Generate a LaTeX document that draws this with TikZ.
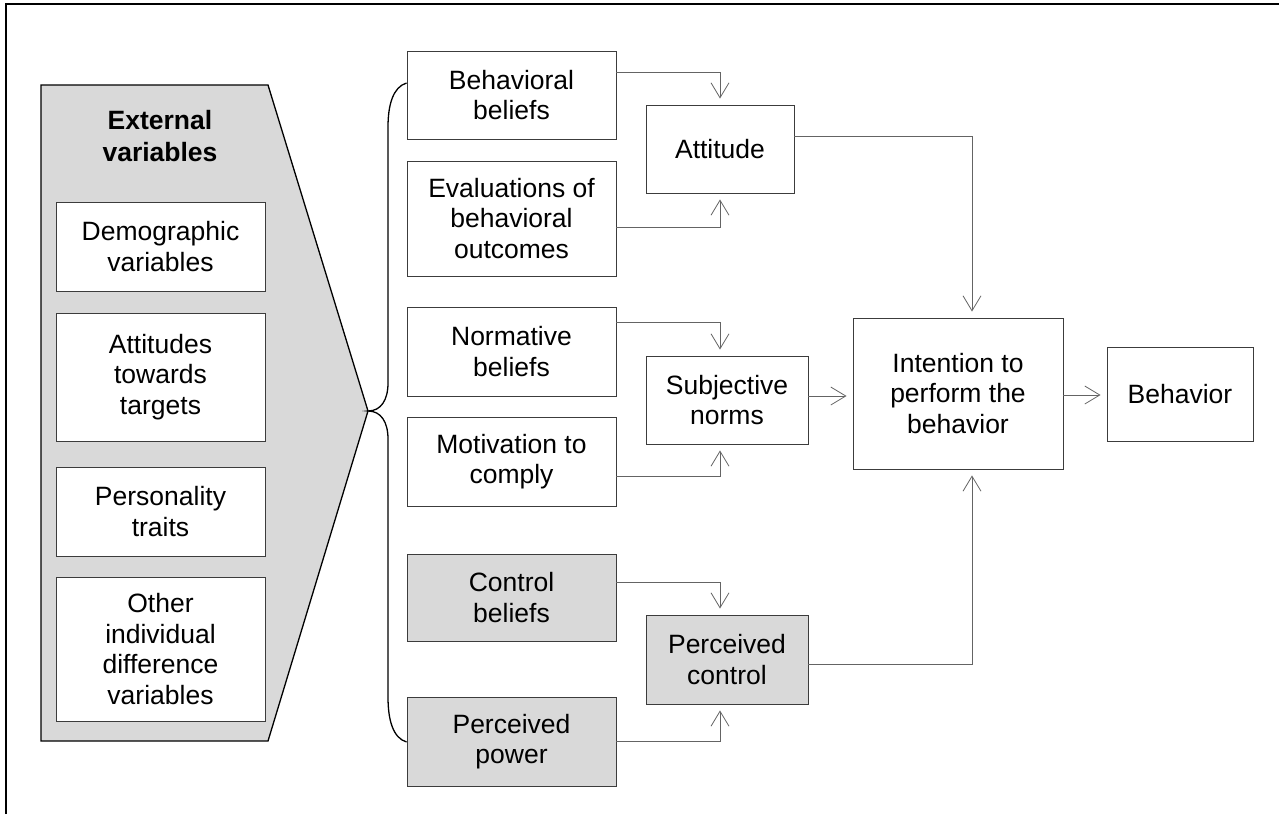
\documentclass[tikz,border=0pt]{standalone}
\usepackage{fontspec}
\setmainfont{Liberation Sans}
\usetikzlibrary{arrows.meta}

\definecolor{panelgray}{RGB}{217,217,217}
\definecolor{edgegray}{RGB}{60,60,60}
\definecolor{linkgray}{RGB}{100,100,100}

\tikzset{
  lbl/.style={font=\fontsize{26.5}{30.5}\selectfont, align=center},
  box/.style={lbl, draw=edgegray, line width=0.9pt, fill=white, inner sep=0pt},
  graybox/.style={box, fill=panelgray},
  link/.style={draw=linkgray, line width=0.8pt,
    -{Straight Barb[length=15pt,width=18pt,line width=0.8pt]}, shorten >=6pt},
}

\begin{document}
\begin{tikzpicture}[x=1pt, y=-1pt]
\useasboundingbox (0,0) rectangle (1279,814);

% frame edges
\draw[line width=2pt] (6,814) -- (6,4) -- (1279,4);

% external variables panel
\coordinate (tip) at (368,411);
\draw[line width=1.3pt, fill=panelgray] (41,85) -- (268,85) -- (tip) -- (268,741) -- (41,741) -- cycle;
\node[lbl, font=\fontsize{26.5}{32}\selectfont\bfseries] (ext) at (160,136) {External\\variables};

\node[box, minimum width=209pt, minimum height=89pt]  (demo)  at (160.5,246.5) {Demographic\\variables};
\node[box, minimum width=209pt, minimum height=128pt] (targ)  at (160.5,377)   {Attitudes\\towards\\targets};
\node[box, minimum width=209pt, minimum height=89pt]  (pers)  at (160.5,511.5) {Personality\\traits};
\node[box, minimum width=209pt, minimum height=144pt] (other) at (160.5,649)   {Other\\individual\\difference\\variables};

% belief column
\node[box, minimum width=209pt, minimum height=88pt]  (bb) at (511.5,95)    {Behavioral\\beliefs};
\node[box, minimum width=209pt, minimum height=115pt] (ev) at (511.5,218.5) {Evaluations of\\behavioral\\outcomes};
\node[box, minimum width=209pt, minimum height=89pt]  (nb) at (511.5,351.5) {Normative\\beliefs};
\node[box, minimum width=209pt, minimum height=89pt]  (mc) at (511.5,461.5) {Motivation to\\comply};
\node[graybox, minimum width=209pt, minimum height=87pt] (cb) at (511.5,597.5) {Control\\beliefs};
\node[graybox, minimum width=209pt, minimum height=89pt] (pp) at (511.5,741.5) {Perceived\\power};

% constructs
\node[box, minimum width=148pt, minimum height=88pt] (att) at (720,149)   {Attitude};
\node[box, minimum width=162pt, minimum height=88pt] (sn)  at (727,400)   {Subjective\\norms};
\node[graybox, minimum width=162pt, minimum height=89pt] (pc) at (727,659.5) {Perceived\\control};
\node[box, minimum width=210pt, minimum height=151pt] (int) at (958,393.5) {Intention to\\perform the\\behavior};
\node[box, minimum width=146pt, minimum height=94pt] (beh) at (1180,394)  {Behavior};

% brace linking the panel to the belief column
\coordinate (btop) at (bb.west |- 0,83);
\coordinate (bbot) at (pp.west |- 0,742);
\draw[line width=1.3pt] (btop) .. controls (393,87) and (388,105) .. (388,127)
  -- (388,383) .. controls (388,400) and (381,411) .. (tip)
  .. controls (381,411) and (388,422) .. (388,439)
  -- (388,697) .. controls (388,720) and (393,738) .. (bbot);

% belief to construct links
\coordinate (col) at (720,0);
\coordinate (icol) at (972,0);
\draw[link] (bb.east |- 0,72)  -| (col |- att.north);
\draw[link] (ev.east |- 0,227) -| (col |- att.south);
\draw[link] (nb.east |- 0,322) -| (col |- sn.north);
\draw[link] (mc.east |- 0,476) -| (col |- sn.south);
\draw[link] (cb.east |- 0,582) -| (col |- pc.north);
\draw[link] (pp.east |- 0,741) -| (col |- pc.south);

% construct to intention links
\draw[link] (att.east |- 0,136) -| (icol |- int.north);
\draw[link] (sn.east |- 0,396) -- (int.west |- 0,396);
\draw[link] (pc.east |- 0,664) -| (icol |- int.south);
\draw[link] (int.east |- 0,395) -- (beh.west |- 0,395);
\end{tikzpicture}
\end{document}
